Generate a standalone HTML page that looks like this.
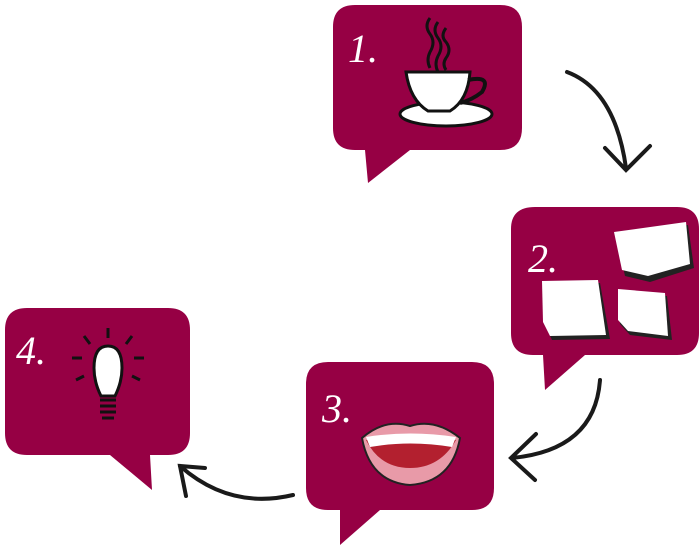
<!DOCTYPE html>
<html><head><style>
body{margin:0;background:#fff;width:700px;height:545px;overflow:hidden}
svg{display:block}
.n{font-family:"Liberation Serif",serif;font-style:italic;fill:#fff;font-size:40px}
</style></head><body>
<svg width="700" height="545" viewBox="0 0 700 545">
<g fill="#960044">
<path d="M355 5 H500 Q522 5 522 27 V128 Q522 150 500 150 H410 L368 183 L365 150 H355 Q333 150 333 128 V27 Q333 5 355 5Z"/>
<path d="M535 207 H677 Q699 207 699 229 V333 Q699 355 677 355 H585 L545 390 L543 355 H533 Q511 355 511 333 V229 Q511 207 535 207Z"/>
<path d="M328 362 H472 Q494 362 494 384 V488 Q494 510 472 510 H380 L340 545 L340 510 H328 Q306 510 306 488 V384 Q306 362 328 362Z"/>
<path d="M27 308 H168 Q190 308 190 330 V433 Q190 455 168 455 H150 L152 490 L110 455 H27 Q5 455 5 433 V330 Q5 308 27 308Z"/>
</g>
<text class="n" x="348" y="62">1.</text>
<text class="n" x="528" y="272">2.</text>
<text class="n" x="322" y="422">3.</text>
<text class="n" x="16" y="364">4.</text>
<!-- cup -->
<g stroke="#111" stroke-width="3" fill="none">
<path d="M430 18 q-6 8 0 16 q6 8 0 18 q-4 8 0 16"/>
<path d="M438 22 q-6 8 0 16 q6 8 0 18 q-4 8 0 16"/>
<path d="M446 28 q-6 8 0 14 q6 8 0 16 q-4 6 0 12"/>
</g>
<ellipse cx="446" cy="114" rx="46" ry="12" fill="#fff" stroke="#111" stroke-width="3"/>
<path d="M406 72 H470 Q468 100 450 111 H428 Q410 100 406 72Z" fill="#fff" stroke="#111" stroke-width="3"/>
<path d="M468 80 Q492 75 482 92 Q472 100 460 103" fill="none" stroke="#111" stroke-width="4"/>
<!-- notes -->
<g fill="#222"><path d="M616 236 L688 225 L694 268 L650 282 L625 276Z"/><path d="M544 284 L600 283 L610 339 L552 340 L545 325Z"/><path d="M620 292 L667 296 L672 340 L630 335 L620 324Z"/></g>
<g fill="#fff"><path d="M614 232 L686 222 L690 264 L648 276 L622 270Z"/><path d="M542 281 L598 280 L606 335 L550 336 L543 322Z"/><path d="M618 289 L665 293 L668 336 L628 331 L618 320Z"/></g>
<!-- mouth -->
<path d="M362 438 Q385 418 410 426 Q435 418 460 438 Q452 482 410 485 Q370 482 362 438Z" fill="#e89aa8" stroke="#222" stroke-width="2"/>
<path d="M366 440 Q410 432 456 440 Q440 468 410 468 Q380 468 366 440Z" fill="#b3202f"/>
<path d="M366 437 Q410 430 456 437 L452 447 Q410 440 370 447Z" fill="#fff"/>
<!-- bulb -->
<g stroke="#111" stroke-width="3" fill="#fff">
<path d="M94 368 Q94 346 108 346 Q122 346 122 368 Q122 382 115 396 H101 Q94 382 94 368Z"/>
<path d="M100 400 H116 M100 406 H116 M100 412 H116 M102 418 H114" fill="none"/>
<path d="M108 328 V338 M84 336 L90 344 M132 336 L126 344 M72 358 H82 M134 358 H144 M76 380 L84 376 M140 380 L132 376" fill="none"/>
</g>
<!-- arrows -->
<g stroke="#1a1a1a" stroke-width="4" fill="none" stroke-linecap="round">
<path d="M567 72 Q615 90 626 168"/>
<path d="M605 148 L626 170 L650 146"/>
<path d="M600 380 Q595 450 512 458"/>
<path d="M536 434 L511 458 L535 480"/>
<path d="M293 495 Q230 510 180 466"/>
<path d="M205 468 L180 466 L186 496"/>
</g>
</svg>
</body></html>
